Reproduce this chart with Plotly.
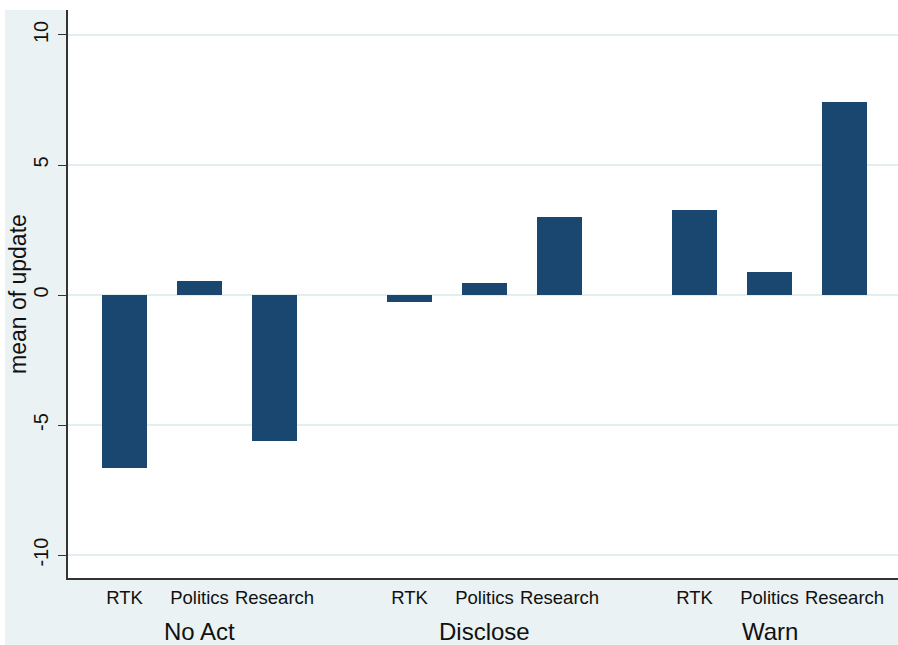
import plotly.graph_objects as go

groups = ["No Act", "Disclose", "Warn"]
items = ["RTK", "Politics", "Research"]
values = {
    "No Act": [-6.65, 0.55, -5.6],
    "Disclose": [-0.28, 0.45, 3.0],
    "Warn": [3.27, 0.88, 7.43],
}
y_ticks = [-10, -5, 0, 5, 10]

GROUP_STEP = 3.8  # in units of within-group spacing
BAR_COLOR = "#1a476f"
TINT = "#eaf2f3"
FONT = "Liberation Sans, Arial, Helvetica, sans-serif"

xs, ys, tickvals, ticktext, group_centers = [], [], [], [], []
for g, grp in enumerate(groups):
    for i, it in enumerate(items):
        pos = g * GROUP_STEP + i
        xs.append(pos)
        ys.append(values[grp][i])
        tickvals.append(pos)
        ticktext.append(it)
    group_centers.append(g * GROUP_STEP + 1)

fig = go.Figure()
fig.add_trace(go.Bar(x=xs, y=ys, width=0.6, marker=dict(color=BAR_COLOR, line=dict(width=0)),
                     showlegend=False, hoverinfo="skip"))

W, H = 898, 645
ml, mt, mb, mr = 68, 10, 67, 0
plot_w = W - ml - mr
x0 = -0.7533
x1 = x0 + plot_w / 75.0

fig.update_layout(
    width=W, height=H,
    margin=dict(l=ml, r=mr, t=mt, b=mb, pad=0),
    paper_bgcolor=TINT, plot_bgcolor="white",
    font=dict(family=FONT, color="#111111"),
    xaxis=dict(range=[x0, x1], tickvals=tickvals, ticktext=ticktext, ticks="",
               showgrid=False, zeroline=False, showline=True, linecolor="#333333", linewidth=1.5,
               tickfont=dict(size=18.5, family=FONT, color="#111111"), ticklabelstandoff=2),
    yaxis=dict(range=[-10.88, 10.96], tickvals=y_ticks, ticktext=[str(v) for v in y_ticks],
               ticks="outside", ticklen=8, tickwidth=1.2, tickcolor="#333333",
               tickangle=-90, showgrid=True, gridcolor="#e3eef0", gridwidth=1.5, zeroline=False,
               showline=True, linecolor="#333333", linewidth=1.5,
               tickfont=dict(size=20, family=FONT, color="#111111"), ticklabelstandoff=2),
    bargap=0,
)

annotations = [dict(text="mean of update", textangle=-90, xref="paper", yref="paper",
                    x=0, y=0.5, xshift=-50, xanchor="center", yanchor="middle", showarrow=False,
                    font=dict(size=23, family=FONT, color="#111111"))]
for gname, c in zip(groups, group_centers):
    annotations.append(dict(text=gname, xref="x", yref="paper", x=c, y=0, yshift=-53,
                            xanchor="center", yanchor="middle", showarrow=False,
                            font=dict(size=24, family=FONT, color="#111111")))
fig.update_layout(annotations=annotations)

plot_h = H - mt - mb
fig.update_layout(shapes=[
    dict(type="rect", xref="paper", yref="paper", x0=-ml / plot_w, x1=1.01,
         y0=1, y1=1 + mt / plot_h, fillcolor="white", line=dict(width=0), layer="below"),
    dict(type="rect", xref="paper", yref="paper", x0=-ml / plot_w, x1=(5 - ml) / plot_w,
         y0=-mb / plot_h, y1=1.05, fillcolor="white", line=dict(width=0), layer="below"),
])

fig.write_html("out.html", config={"displayModeBar": False},
               post_script="document.body.style.margin='0';document.body.style.padding='0';"
                           "document.body.style.overflow='hidden';")
